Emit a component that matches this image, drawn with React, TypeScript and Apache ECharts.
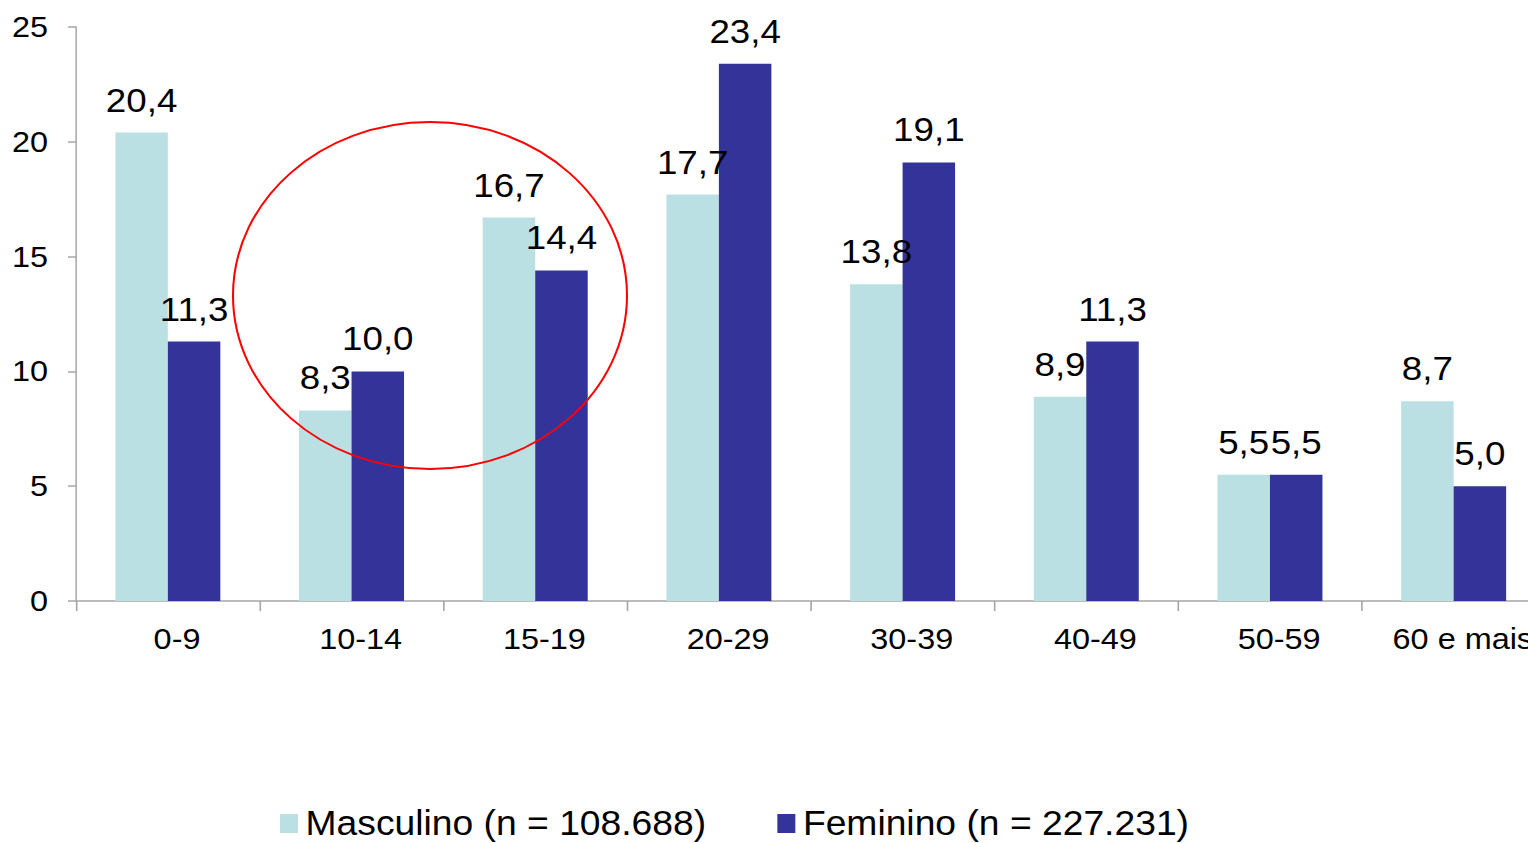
import React, { useEffect, useRef } from "react";
import * as echarts from "echarts";

// Age groups and percentage of cases by sex
const categories = ["0-9", "10-14", "15-19", "20-29", "30-39", "40-49", "50-59", "60 e mais"];
const masculino = [20.4, 8.3, 16.7, 17.7, 13.8, 8.9, 5.5, 8.7];
const feminino = [11.3, 10.0, 14.4, 23.4, 19.1, 11.3, 5.5, 5.0];
const seriesNames = ["Masculino (n = 108.688)", "Feminino (n = 227.231)"];
const yTicks = { min: 0, max: 25, interval: 5 };

const FONT = "'Liberation Sans', Arial, sans-serif";
const fmt = (v: number) => v.toFixed(1).replace(".", ",");

// The chart is laid out in a slightly narrower space and widened with a
// horizontal scale, which gives the wide, slide-style lettering.
const SX = 1.08;
const VIEW_W = 1528;
const VIEW_H = 843;
const PLOT_RIGHT = 1545; // plot area runs past the right edge and is clipped
const px = (v: number) => v / SX;

export default function App() {
  const ref = useRef<HTMLDivElement>(null);

  useEffect(() => {
    if (!ref.current) return;
    const chart = echarts.init(ref.current, undefined, { renderer: "svg" });

    const label = {
      show: true,
      position: "top" as const,
      distance: 16,
      color: "#000",
      fontFamily: FONT,
      fontSize: 34,
      formatter: (p: any) => fmt(p.value),
    };

    const axisColor = "#A6A6A6";

    chart.setOption({
      animation: false,
      backgroundColor: "#fff",
      grid: { left: px(76), top: 27, bottom: 242, right: 0, containLabel: false },
      legend: {
        left: px(280),
        top: 806,
        padding: 0,
        itemWidth: px(18),
        itemHeight: 19,
        itemGap: px(71),
        icon: "rect",
        textStyle: {
          fontFamily: FONT,
          fontSize: 34.5,
          color: "#000",
          padding: [0, 0, 0, 2],
        },
        data: seriesNames,
      },
      xAxis: {
        type: "category",
        data: categories,
        axisLine: { lineStyle: { color: axisColor, width: 1.5 } },
        axisTick: { show: true, length: 10, lineStyle: { color: axisColor, width: 1.5 } },
        axisLabel: {
          color: "#000",
          fontFamily: FONT,
          fontSize: 30,
          margin: 23,
          padding: [0, 0, 0, 17],
        },
        splitLine: { show: false },
      },
      yAxis: {
        type: "value",
        min: yTicks.min,
        max: yTicks.max,
        interval: yTicks.interval,
        axisLine: { show: true, lineStyle: { color: axisColor, width: 1.4 } },
        axisTick: { show: true, length: px(8), lineStyle: { color: axisColor, width: 1.5 } },
        axisLabel: { color: "#000", fontFamily: FONT, fontSize: 30, margin: px(28) },
        splitLine: { show: false },
      },
      series: [
        {
          name: seriesNames[0],
          type: "bar",
          data: masculino,
          barWidth: px(52.5),
          barGap: "0%",
          itemStyle: { color: "#BAE0E3" },
          label,
        },
        {
          name: seriesNames[1],
          type: "bar",
          data: feminino,
          barWidth: px(52.5),
          barGap: "0%",
          itemStyle: { color: "#333399" },
          label,
        },
      ],
      graphic: [
        {
          type: "ellipse",
          shape: { cx: px(430), cy: 295.5, rx: px(197), ry: 173.5 },
          style: { fill: "none", stroke: "#FF0000", lineWidth: 1.9 },
          z: 100,
        },
      ],
    });

    return () => chart.dispose();
  }, []);

  return (
    <div
      style={{
        position: "fixed",
        left: 0,
        top: 0,
        width: VIEW_W,
        height: VIEW_H,
        overflow: "hidden",
        background: "#fff",
      }}
    >
      <div
        ref={ref}
        style={{
          width: px(PLOT_RIGHT),
          height: VIEW_H,
          transform: `scaleX(${SX})`,
          transformOrigin: "0 0",
        }}
      />
    </div>
  );
}
